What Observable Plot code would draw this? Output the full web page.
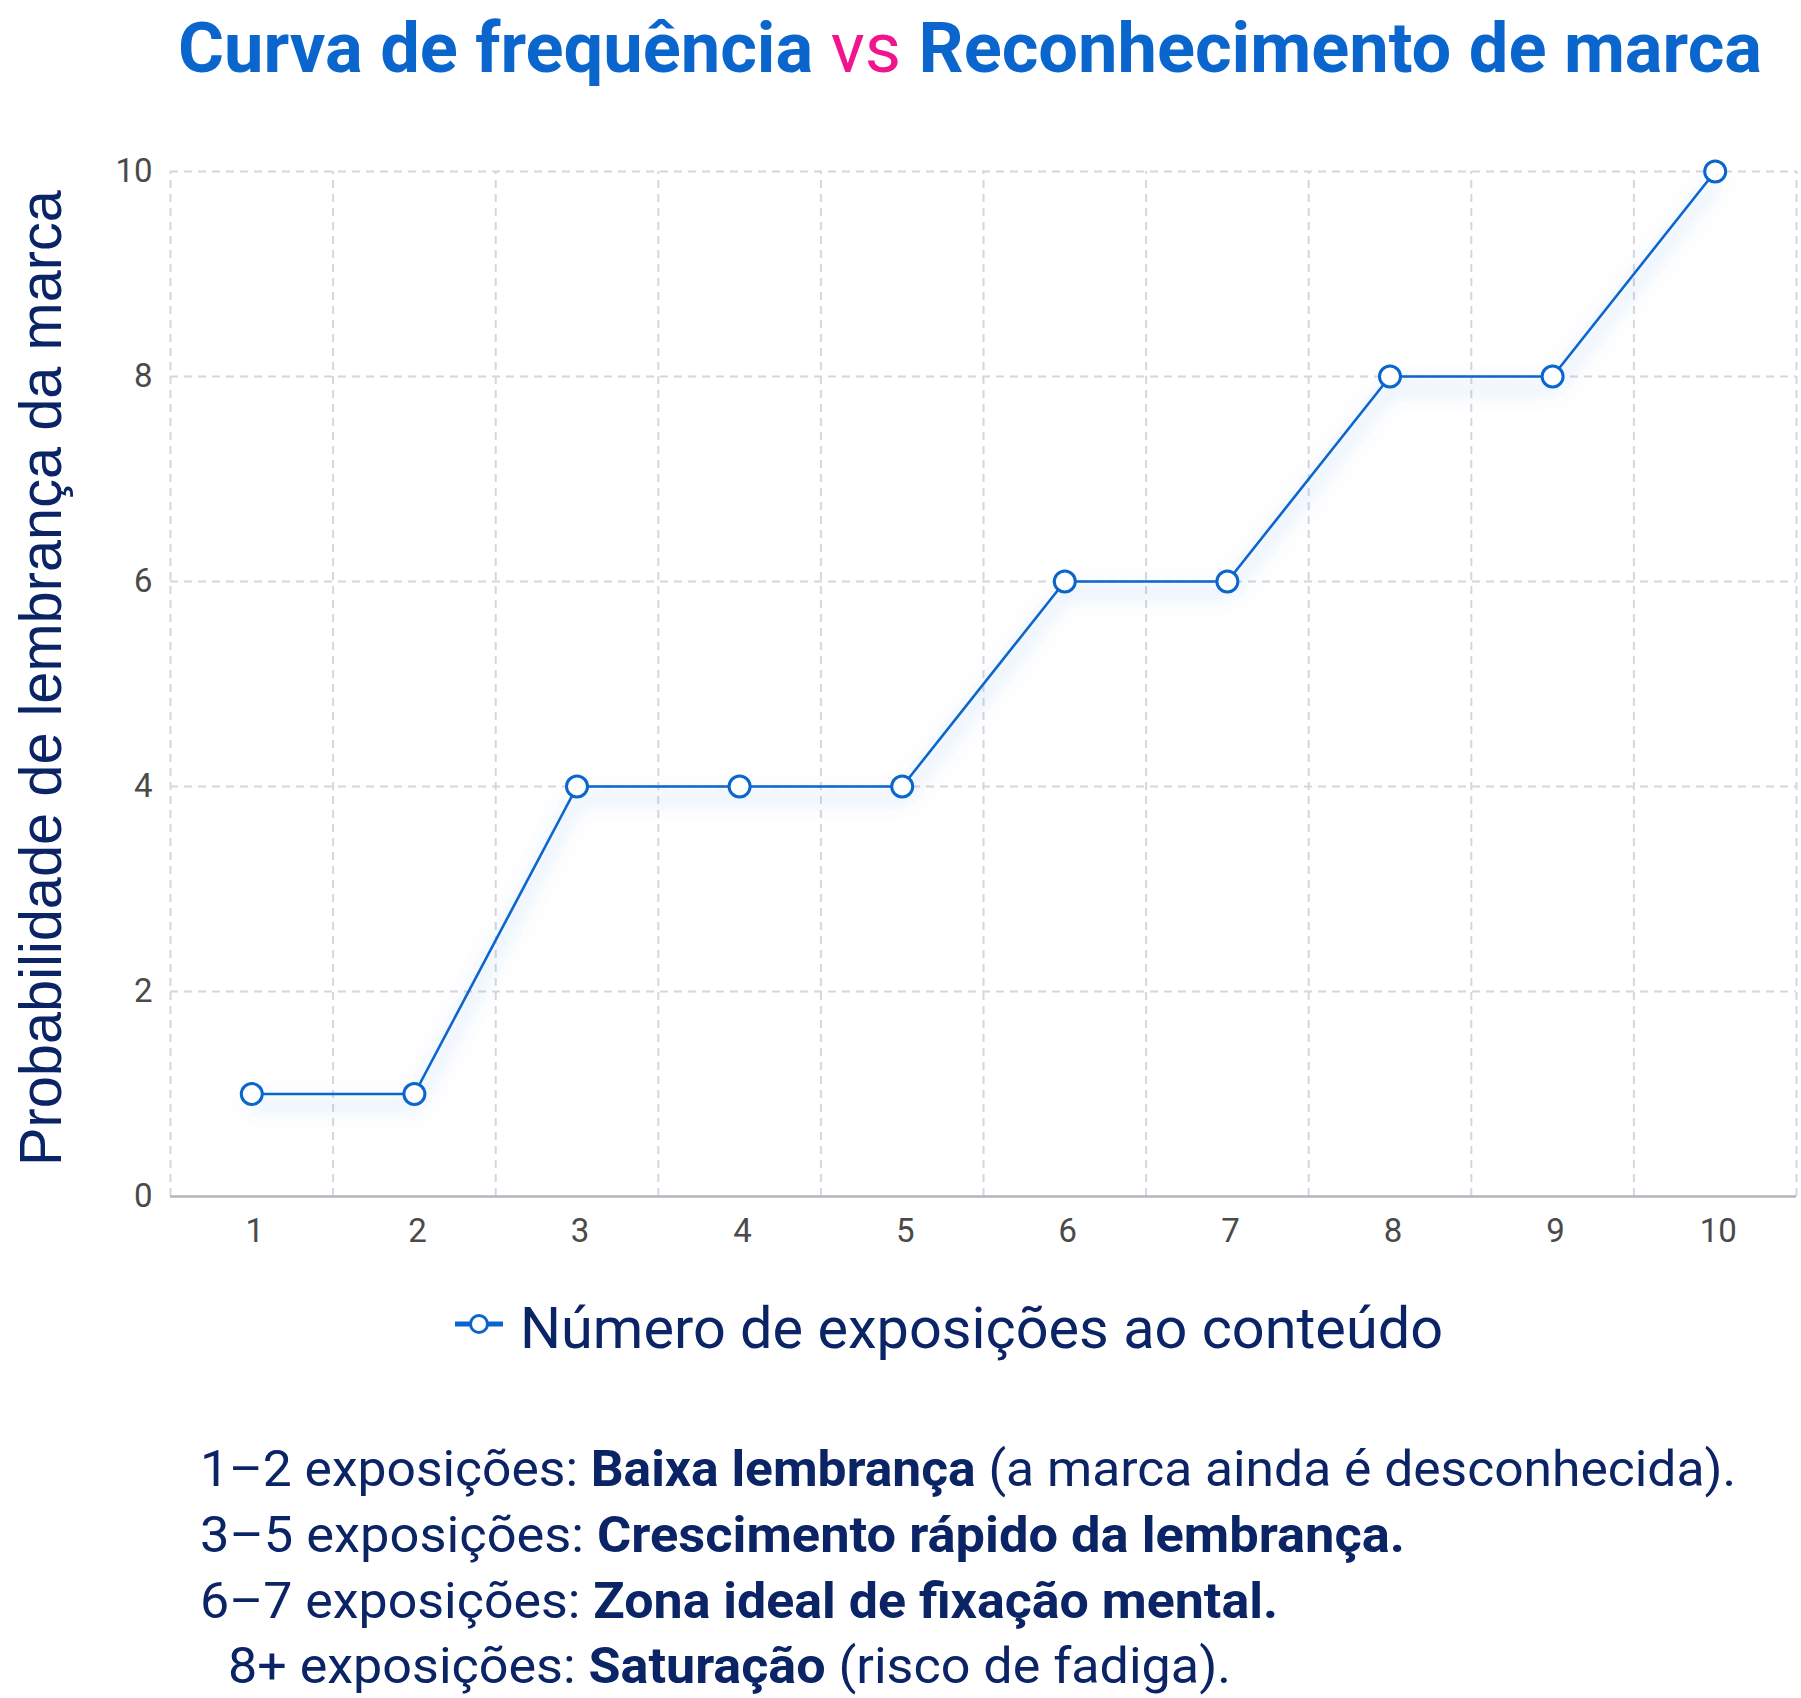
<!DOCTYPE html>
<html>
<head>
<meta charset="utf-8">
<script src="https://cdn.jsdelivr.net/npm/d3@7"></script>
<script src="https://cdn.jsdelivr.net/npm/@observablehq/plot@0.6"></script>
<style>
  html, body { margin: 0; padding: 0; background: #ffffff; }
  body { width: 1801px; height: 1698px; position: relative; overflow: hidden; font-family: Roboto, "Open Sans", sans-serif; }
  .txt { position: absolute; white-space: nowrap; line-height: 1; z-index: 2; }
  #chart { position: absolute; left: 0; top: 100px; }
  #title { font-size: 70px; font-weight: 700; color: #0a66cc; }
  #title .vs { font-weight: 400; color: #f2148f; }
  #ylabel { font-family: "Liberation Sans", Arial, sans-serif; font-size: 59px; color: #0b2466; transform-origin: 0 0; }
  #legend { font-size: 58px; color: #0b2466; }
  .foot { font-size: 50px; color: #0b2466; font-weight: 400; }
  .foot b { font-weight: 700; }
  #legmark { position: absolute; z-index: 2; }
</style>
</head>
<body>
<div id="chart"></div>

<script>
// ---------- data ----------
const exposures = [1, 2, 3, 4, 5, 6, 7, 8, 9, 10];
const recall    = [1, 1, 4, 4, 4, 6, 6, 8, 8, 10];
const yTicks    = [0, 2, 4, 6, 8, 10];
const titleParts = ["Curva de frequência ", "vs", " Reconhecimento de marca"];
const yLabel = "Probabilidade de lembrança da marca";
const seriesName = "Número de exposições ao conteúdo";
const footLines = [
  ["1–2 exposições: ", "Baixa lembrança", " (a marca ainda é desconhecida)."],
  ["3–5 exposições: ", "Crescimento rápido da lembrança.", ""],
  ["6–7 exposições: ", "Zona ideal de fixação mental.", ""],
  ["8+ exposições: ", "Saturação", " (risco de fadiga)."]
];

const data = exposures.map((x, i) => ({x, y: recall[i]}));
const bounds = exposures.map(d => d - 0.5).concat([exposures[exposures.length - 1] + 0.5]);

const blue = "#0a66cc";
const gridColor = "#d6d6de";
const fmt = d => String(d);

const plot = Plot.plot({
  width: 1801,
  height: 1176,
  marginLeft: 170,
  marginRight: 5,
  marginTop: 71,
  marginBottom: 80,
  style: {fontFamily: "Roboto, sans-serif", background: "transparent", overflow: "visible"},
  x: {domain: [bounds[0], bounds[bounds.length - 1]], label: null},
  y: {domain: [0, 10], label: null},
  marks: [
    Plot.ruleY(yTicks.filter(d => d > 0), {stroke: gridColor, strokeWidth: 2, strokeDasharray: "8,6"}),
    Plot.ruleX(bounds, {y1: 0, y2: 10, stroke: gridColor, strokeWidth: 2, strokeDasharray: "8,6"}),
    Plot.ruleY([0], {stroke: "#b4b4be", strokeWidth: 2.5}),
    Plot.axisY(yTicks, {tickSize: 0, tickPadding: 18, fontSize: 33, fill: "#4a4a4a", label: null, tickFormat: fmt}),
    Plot.axisX(exposures, {tickSize: 0, tickPadding: 22, fontSize: 33, fill: "#4a4a4a", label: null, dx: 3, tickFormat: fmt}),
    Plot.line(data, {x: "x", y: "y", stroke: blue, strokeWidth: 2.6}),
    Plot.dot(data, {x: "x", y: "y", r: 10.5, fill: "white", stroke: blue, strokeWidth: 3})
  ]
});
document.getElementById("chart").appendChild(plot);

// glow / soft shadow under the line
const svg = d3.select(plot.tagName.toLowerCase() === "svg" ? plot : plot.querySelector("svg"));
const defs = svg.insert("defs", ":first-child");
const f = defs.append("filter").attr("id", "glow")
  .attr("x", "-10%").attr("y", "-10%").attr("width", "120%").attr("height", "140%");
f.append("feDropShadow").attr("dx", 0).attr("dy", 11).attr("stdDeviation", 10)
  .attr("flood-color", "#1e6fd9").attr("flood-opacity", 0.55);
svg.selectAll("g[aria-label='line']").attr("filter", "url(#glow)");

// ---------- text helpers ----------
function make(id, cls, html) {
  const el = document.createElement("div");
  if (id) el.id = id;
  el.className = "txt " + (cls || "");
  el.innerHTML = html;
  document.body.appendChild(el);
  return el;
}
function baselineOffset(el) {
  const probe = document.createElement("span");
  probe.style.cssText = "display:inline-block;width:0;height:0;vertical-align:baseline";
  el.appendChild(probe);
  const b = probe.getBoundingClientRect().bottom - el.getBoundingClientRect().top;
  el.removeChild(probe);
  return b;
}
function place(el, left, baseline, targetWidth) {
  el.style.left = "0px"; el.style.top = "0px";
  const b = baselineOffset(el);
  const w = el.getBoundingClientRect().width;
  el.style.left = left + "px";
  el.style.top = (baseline - b) + "px";
  if (targetWidth) {
    el.style.transformOrigin = "0 " + b + "px";
    el.style.transform = "scaleX(" + (targetWidth / w) + ")";
  }
}

// title
const title = make("title", "", `${titleParts[0]}<span class="vs">${titleParts[1]}</span>${titleParts[2]}`);
place(title, 178, 72, 1584);

// y label (rotated)
const yl = make("ylabel", "", yLabel);
{
  yl.style.left = "0px"; yl.style.top = "0px";
  const b = baselineOffset(yl);
  const w = yl.getBoundingClientRect().width;
  const s = 976 / w;
  yl.style.left = "61px";
  yl.style.top = "1166px";
  yl.style.transform = `rotate(-90deg) translate(0px, ${-b}px) scaleX(${s})`;
}

// legend
const legMark = document.createElementNS("http://www.w3.org/2000/svg", "svg");
legMark.setAttribute("id", "legmark");
legMark.setAttribute("width", 56); legMark.setAttribute("height", 30);
legMark.style.left = "451px"; legMark.style.top = "1309px";
legMark.innerHTML = `<line x1="4" y1="15" x2="52" y2="15" stroke="${blue}" stroke-width="5"/>
  <circle cx="28" cy="15" r="8.5" fill="white" stroke="${blue}" stroke-width="3"/>`;
document.body.appendChild(legMark);
const leg = make("legend", "", seriesName);
place(leg, 520, 1348, 923);

// footer
const footBase = [1486, 1552, 1618, 1683];
const footLeft = [200, 200, 200, 228];
const footW = [1536, 1205, 1078, 1003];
footLines.forEach((p, i) => {
  const el = make(null, "foot", `${p[0]}<b>${p[1]}</b>${p[2]}`);
  place(el, footLeft[i], footBase[i], footW[i]);
});
</script>
</body>
</html>
